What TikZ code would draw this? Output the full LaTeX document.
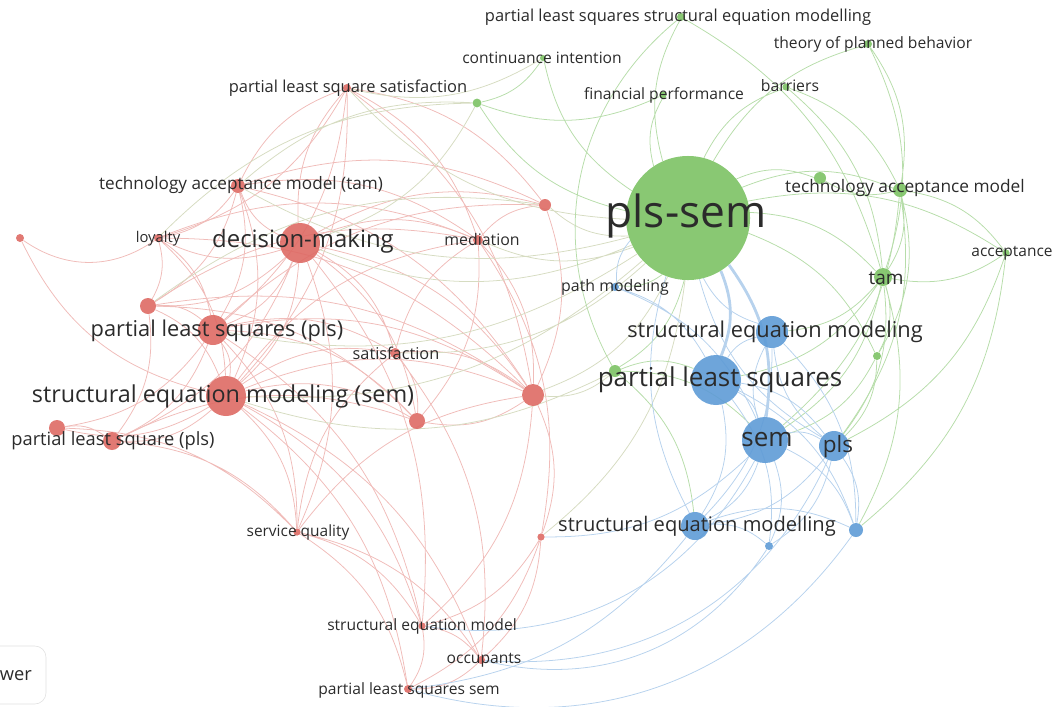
\documentclass[tikz,border=0pt]{standalone}
\usepackage{fontspec}
\setmainfont{Open Sans}
\usepackage{tikz}
\usetikzlibrary{backgrounds}
\definecolor{kwred}{HTML}{DE6A64}
\definecolor{kwgreen}{HTML}{7CC264}
\definecolor{kwblue}{HTML}{5E9BD6}
\definecolor{kwtext}{HTML}{2B2B2B}
\newcommand{\kwsize}[1]{\fontsize{#1}{#1}\selectfont}
\tikzstyle{redkw} = [circle, inner sep=0pt, fill=kwred, fill opacity=0.9]
\tikzstyle{greenkw} = [circle, inner sep=0pt, fill=kwgreen, fill opacity=0.9]
\tikzstyle{bluekw} = [circle, inner sep=0pt, fill=kwblue, fill opacity=0.9]
\tikzstyle{lbl} = [text=kwtext, inner sep=0pt]
\tikzstyle{redline} = [draw=kwred!45, line width=0.55pt, bend left=22]
\tikzstyle{greenline} = [draw=kwgreen!55, line width=0.55pt, bend left=22]
\tikzstyle{blueline} = [draw=kwblue!45, line width=0.55pt, bend left=22]
\tikzstyle{mixline} = [draw=kwred!30!kwgreen!40, line width=0.55pt, bend left=22]

\begin{document}
\begin{tikzpicture}[x=0.025cm, y=-0.025cm]
    \useasboundingbox (0,0) rectangle (1056,706);
    \clip (0,0) rectangle (1056,706);
    % green cluster
    \node (plssem) [greenkw, minimum size=3.1cm] at (688,218) {};
    \node (plsstruct) [greenkw, minimum size=0.2cm] at (681,17) {};
    \node (contint) [greenkw, minimum size=0.15cm] at (543,58) {};
    \node (g1) [greenkw, minimum size=0.22cm] at (477,103) {};
    \node (finperf) [greenkw, minimum size=0.18cm] at (663,95) {};
    \node (barriers) [greenkw, minimum size=0.18cm] at (786,87) {};
    \node (tpb) [greenkw, minimum size=0.2cm] at (868,44) {};
    \node (tamodel) [greenkw, minimum size=0.35cm] at (900,190) {};
    \node (g2) [greenkw, minimum size=0.3cm] at (820,178) {};
    \node (accept) [greenkw, minimum size=0.18cm] at (1006,253) {};
    \node (tam) [greenkw, minimum size=0.45cm] at (883,277) {};
    \node (g3) [greenkw, minimum size=0.2cm] at (877,356) {};
    \node (g4) [greenkw, minimum size=0.3cm] at (615,371) {};
    % blue cluster
    \node (plsq) [bluekw, minimum size=1.25cm] at (716,380) {};
    \node (sem) [bluekw, minimum size=1.15cm] at (765,440) {};
    \node (pls) [bluekw, minimum size=0.75cm] at (834,446) {};
    \node (strmodeling) [bluekw, minimum size=0.8cm] at (772,332) {};
    \node (strmodelling) [bluekw, minimum size=0.7cm] at (695,526) {};
    \node (b1) [bluekw, minimum size=0.35cm] at (856,530) {};
    \node (b2) [bluekw, minimum size=0.2cm] at (769,546) {};
    \node (pathmod) [bluekw, minimum size=0.2cm] at (615,287) {};
    % red cluster
    \node (dm) [redkw, minimum size=1.0cm] at (300,243) {};
    \node (tamred) [redkw, minimum size=0.35cm] at (238,186) {};
    \node (plssat) [redkw, minimum size=0.2cm] at (347,88) {};
    \node (loyalty) [redkw, minimum size=0.2cm] at (158,238) {};
    \node (r1) [redkw, minimum size=0.2cm] at (20,238) {};
    \node (r2) [redkw, minimum size=0.4cm] at (148,306) {};
    \node (plsp) [redkw, minimum size=0.75cm] at (213,330) {};
    \node (mediation) [redkw, minimum size=0.25cm] at (478,240) {};
    \node (r3) [redkw, minimum size=0.3cm] at (545,205) {};
    \node (satisf) [redkw, minimum size=0.25cm] at (395,353) {};
    \node (semred) [redkw, minimum size=1.0cm] at (226,396) {};
    \node (r4) [redkw, minimum size=0.55cm] at (533,395) {};
    \node (r5) [redkw, minimum size=0.4cm] at (417,421) {};
    \node (r6) [redkw, minimum size=0.4cm] at (57,428) {};
    \node (plsq2) [redkw, minimum size=0.45cm] at (112,441) {};
    \node (servq) [redkw, minimum size=0.18cm] at (297,532) {};
    \node (r7) [redkw, minimum size=0.18cm] at (541,537) {};
    \node (strmodel) [redkw, minimum size=0.18cm] at (422,626) {};
    \node (occup) [redkw, minimum size=0.2cm] at (481,660) {};
    \node (plssem2) [redkw, minimum size=0.2cm] at (408,689) {};
    % links
    \begin{pgfonlayer}{background}
    \draw [redline] (dm) to (tamred) (dm) to (plsp) (dm) to (semred) (dm) to (loyalty) (dm) to (r2) (dm) to (plssat) (dm) to (mediation) (dm) to (r3) (dm) to (satisf) (dm) to (r4) (dm) to (r5) (dm) to (servq) (dm) to (plsq2) (dm) to (strmodel);
    \draw [redline] (tamred) to (plssat) (tamred) to (plsp) (tamred) to (semred) (tamred) to (loyalty) (tamred) to (r3) (tamred) to (mediation) (tamred) to (r4) (tamred) to (r2);
    \draw [redline] (plssat) to (plsp) (plssat) to (semred) (plssat) to (mediation) (plssat) to (r3) (plssat) to (r4) (plssat) to (loyalty);
    \draw [redline] (loyalty) to (plsp) (loyalty) to (r2) (loyalty) to (semred) (loyalty) to (r4) (loyalty) to (mediation);
    \draw [redline, bend right=35] (r1) to (loyalty);
    \draw [redline, bend right=25] (r1) to (semred);
    \draw [redline] (r2) to (plsp) (r2) to (semred) (r2) to (plsq2) (r2) to (r5) (r2) to (r4) (r2) to (mediation);
    \draw [redline] (plsp) to (semred) (plsp) to (plsq2) (plsp) to (r6) (plsp) to (satisf) (plsp) to (r5) (plsp) to (r4) (plsp) to (servq) (plsp) to (r3) (plsp) to (strmodel);
    \draw [redline] (semred) to (plsq2) (semred) to (r6) (semred) to (satisf) (semred) to (r5) (semred) to (r4) (semred) to (servq) (semred) to (strmodel) (semred) to (plssem2) (semred) to (occup) (semred) to (mediation);
    \draw [redline] (r6) to (plsq2) (r6) to (servq) (plsq2) to (servq) (plsq2) to (r5);
    \draw [redline] (satisf) to (r5) (satisf) to (r4) (satisf) to (mediation) (satisf) to (occup);
    \draw [redline] (mediation) to (r3) (mediation) to (r4) (mediation) to (r5) (mediation) to (r7);
    \draw [redline] (r3) to (r4) (r4) to (r5) (r4) to (r7) (r4) to (strmodel);
    \draw [redline] (servq) to (strmodel) (servq) to (plssem2) (servq) to (occup) (servq) to (r4) (servq) to (satisf);
    \draw [redline] (r7) to (strmodel) (r7) to (occup) (r7) to (plssem2) (strmodel) to (occup) (strmodel) to (plssem2) (occup) to (plssem2);
    \draw [mixline] (plssem) to (dm) (plssem) to (semred) (plssem) to (plsp) (plssem) to (mediation) (plssem) to (r3) (plssem) to (r4) (plssem) to (satisf) (plssem) to (r7) (plssem) to (tamred) (plssem) to (plssat);
    \draw [mixline] (g1) to (dm) (contint) to (plssat) (g4) to (r4) (g4) to (semred) (tamred) to (g1) (r2) to (r3) (loyalty) to (g1);
    \draw [greenline] (plssem) to (plsstruct) (plssem) to (contint) (plssem) to (g1) (plssem) to (finperf) (plssem) to (barriers) (plssem) to (tpb) (plssem) to (tamodel) (plssem) to (g2) (plssem) to (accept) (plssem) to (tam) (plssem) to (g3) (plssem) to (g4) (plssem) to (pathmod);
    \draw [greenline] (contint) to (g1) (finperf) to (g1) (plsstruct) to (tam) (tpb) to (tam) (tpb) to (tamodel) (barriers) to (tamodel) (barriers) to (tam);
    \draw [greenline] (tamodel) to (tam) (tamodel) to (accept) (tamodel) to (g2) (tamodel) to (g3) (tamodel) to (sem) (tamodel) to (pls);
    \draw [greenline] (accept) to (tam) (accept) to (b1) (accept) to (pls) (tam) to (g3) (tam) to (sem) (tam) to (plsq) (tam) to (pls) (tam) to (strmodeling) (tam) to (b1);
    \draw [greenline] (g3) to (sem) (g3) to (pls) (g4) to (plsq) (g4) to (sem) (g4) to (strmodelling);
    \draw [greenline, bend right=40] (plsstruct) to (g4);
    \draw [blueline] (plsq) to (sem) (plsq) to (pls) (plsq) to (strmodeling) (plsq) to (strmodelling) (plsq) to (b1) (plsq) to (b2);
    \draw [blueline] (sem) to (pls) (sem) to (strmodeling) (sem) to (strmodelling) (sem) to (b1) (sem) to (b2);
    \draw [blueline] (pls) to (strmodeling) (pls) to (b1) (pls) to (b2) (pls) to (strmodelling) (pls) to (plssem);
    \draw [blueline] (strmodeling) to (plssem) (strmodeling) to (strmodelling) (strmodeling) to (b1) (strmodelling) to (b2) (strmodelling) to (b1) (strmodelling) to (plssem);
    \draw [blueline] (pathmod) to (plssem) (pathmod) to (plsq) (pathmod) to (sem);
    \draw [blueline, line width=2pt] (plssem) to (plsq) (plssem) to (sem);
    \draw [blueline, bend left=35] (pls) to (occup) (b1) to (plssem2) (sem) to (strmodel) (b2) to (occup);
    \draw [blueline] (sem) to (r7) (strmodelling) to (plssem2);
    \end{pgfonlayer}
    % labels
    \node (plssemlbl) [lbl, font=\kwsize{31.5}] at (686,216) {pls-sem};
    \node (plsstructlbl) [lbl, font=\kwsize{11.7}] at (678,17) {partial least squares structural equation modelling};
    \node (contintlbl) [lbl, font=\kwsize{11.1}] at (542,58) {continuance intention};
    \node (finperflbl) [lbl, font=\kwsize{11.1}] at (664,95) {financial performance};
    \node (barrierslbl) [lbl, font=\kwsize{11.2}] at (790,86) {barriers};
    \node (tpblbl) [lbl, font=\kwsize{11.1}] at (873,44) {theory of planned behavior};
    \node (tamodellbl) [lbl, font=\kwsize{12.3}] at (905,188) {technology acceptance model};
    \node (acceptlbl) [lbl, font=\kwsize{11}] at (1012,253) {acceptance};
    \node (tamlbl) [lbl, font=\kwsize{13.5}] at (886,278) {tam};
    \node (plsqlbl) [lbl, font=\kwsize{18.5}] at (720,380) {partial least squares};
    \node (semlbl) [lbl, font=\kwsize{18.5}] at (767,440) {sem};
    \node (plslbl) [lbl, font=\kwsize{16}] at (838,447) {pls};
    \node (strmodelinglbl) [lbl, font=\kwsize{15.5}] at (775,332) {structural equation modeling};
    \node (strmodellinglbl) [lbl, font=\kwsize{14.3}] at (697,526) {structural equation modelling};
    \node (pathmodlbl) [lbl, font=\kwsize{11.3}] at (615,287) {path modeling};
    \node (dmlbl) [lbl, font=\kwsize{17}] at (303,241) {decision-making};
    \node (tamredlbl) [lbl, font=\kwsize{12.2}] at (241,185) {technology acceptance model (tam)};
    \node (plssatlbl) [lbl, font=\kwsize{11.7}] at (348,88) {partial least square satisfaction};
    \node (loyaltylbl) [lbl, font=\kwsize{10.5}] at (158,239) {loyalty};
    \node (plsplbl) [lbl, font=\kwsize{15.5}] at (217,331) {partial least squares (pls)};
    \node (mediationlbl) [lbl, font=\kwsize{11.3}] at (482,240) {mediation};
    \node (satisflbl) [lbl, font=\kwsize{11.6}] at (396,353) {satisfaction};
    \node (semredlbl) [lbl, font=\kwsize{16.6}] at (223,396) {structural equation modeling (sem)};
    \node (plsq2lbl) [lbl, font=\kwsize{13}] at (113,441) {partial least square (pls)};
    \node (servqlbl) [lbl, font=\kwsize{11}] at (298,532) {service quality};
    \node (strmodellbl) [lbl, font=\kwsize{11.1}] at (422,626) {structural equation model};
    \node (occuplbl) [lbl, font=\kwsize{11.1}] at (484,660) {occupants};
    \node (plssem2lbl) [lbl, font=\kwsize{11.1}] at (409,690) {partial least squares sem};
    % cut-off panel, bottom left
    \node (viewer) [draw=gray!25, rounded corners=8pt, minimum width=2.3cm, minimum height=1.45cm] at (0,675) {};
    \node (viewerlbl) [lbl, font=\kwsize{13}, anchor=east] at (32,676) {wer};
\end{tikzpicture}
\end{document}
